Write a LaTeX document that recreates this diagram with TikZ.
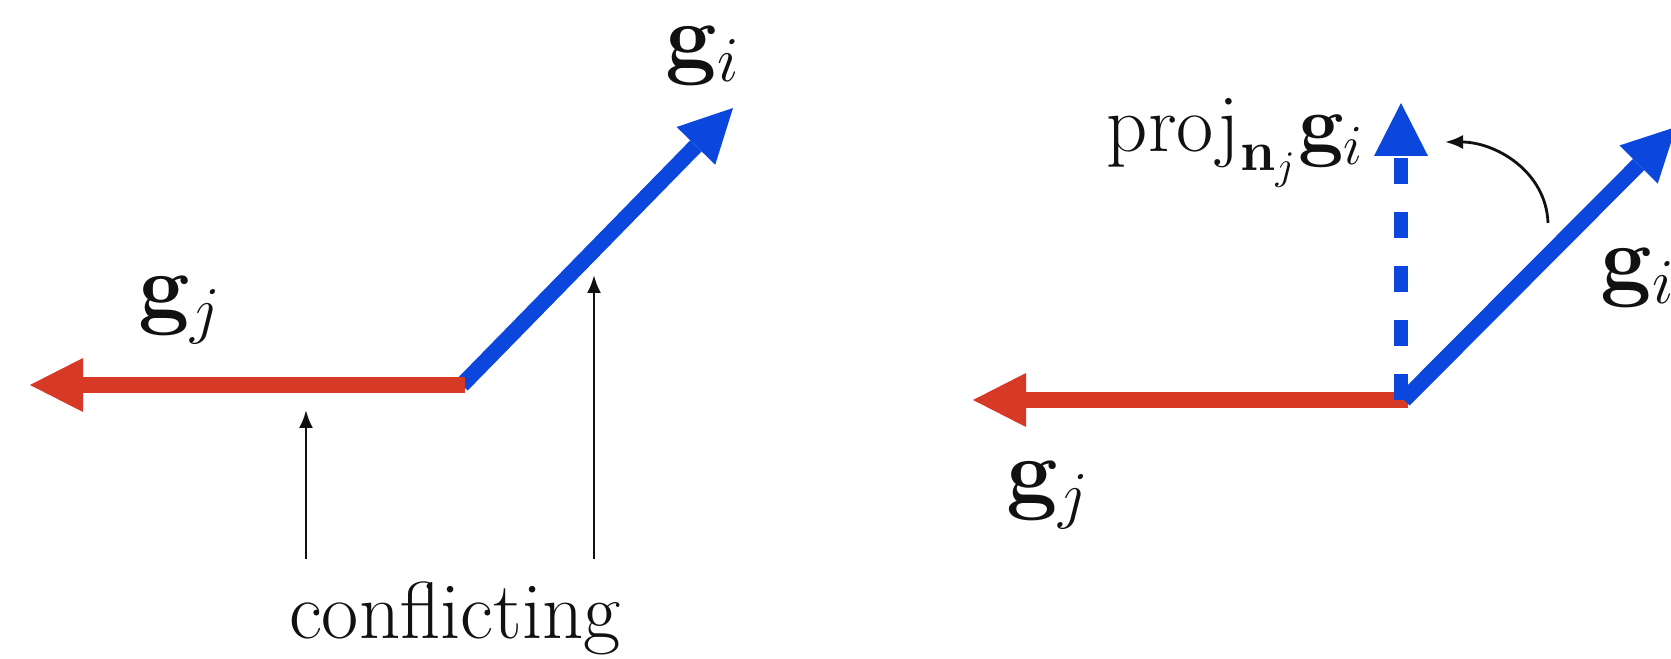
\RequirePackage{fix-cm}
\documentclass[tikz,border=0pt]{standalone}
\usepackage{amsmath,amssymb}
\usepackage{xcolor}
\usepackage{tikz}
\usetikzlibrary{arrows.meta}
\definecolor{gcRed}{HTML}{D63A26}
\definecolor{gcBlue}{HTML}{0B47DC}
\definecolor{gcInk}{HTML}{111111}
\tikzset{
  gc diagram/.style={font=\fontsize{23}{28}\selectfont, text=gcInk},
  gc vec/.style={-{Triangle[length=5.3mm, width=5.4mm, line width=0pt]}, line width=4.5pt},
  gc vec i/.style={gc vec, draw=gcBlue},
  gc vec j/.style={gc vec, draw=gcRed},
  gc proj/.style={gc vec i, line width=4pt, dash pattern=on 2.6mm off 2.8mm},
  gc pointer/.style={-{Latex[length=1.8mm, width=1.4mm]}, draw=gcInk, line width=0.8pt},
  gc label/.style={inner sep=0pt},
  gc grad label/.style={gc label, font=\fontsize{26}{31}\selectfont}
}

\begin{document}
\begin{tikzpicture}[gc diagram]
\useasboundingbox (0,0) rectangle (16.71,6.58);
% left: the two gradients conflict
\coordinate (oL) at (4.62,2.73);
\coordinate (giL) at (7.33,5.50);
\coordinate (gjL) at (0.30,2.73);
\draw[gc vec i] (oL) -- (giL);
\draw[gc vec j] ([xshift=0.3mm]oL) -- (gjL);
\node[gc grad label, anchor=base] (giLabL) at (7.03,5.90) {$\mathbf{g}_i$};
\node[gc grad label, anchor=base] (gjLabL) at (1.80,3.40) {$\mathbf{g}_j$};
\node[gc label, anchor=base] (conf) at (4.55,0.20) {conflicting};
\coordinate (confA) at (3.06,0.99);
\coordinate (confB) at (5.94,0.99);
\coordinate (hitJ) at (3.06,2.48);
\coordinate (hitI) at (5.94,3.83);
\draw[gc pointer] (confA) -- (hitJ);
\draw[gc pointer] (confB) -- (hitI);
% right: g_i projected onto the normal of g_j
\coordinate (oR) at (14.01,2.58);
\coordinate (gjR) at (9.73,2.58);
\coordinate (giR) at (16.76,5.31);
\coordinate (pjR) at (14.01,5.55);
\draw[gc vec j] ([xshift=0.7mm]oR) -- (gjR);
\draw[gc vec i] ([xshift=0.3mm]oR) -- (giR);
\draw[gc proj] (oR) -- (pjR);
\node[gc label, anchor=base east] (projLab) at (13.65,5.06) {$\mathrm{proj}_{\mathbf{n}_j}\mathbf{g}_i$};
\node[gc grad label, anchor=base west] (giLabR) at (16.00,3.68) {$\mathbf{g}_i$};
\node[gc grad label, anchor=base] (gjLabR) at (10.48,1.55) {$\mathbf{g}_j$};
\coordinate (bendFrom) at (15.48,4.35);
\coordinate (bendTo) at (14.45,5.16);
\draw[gc pointer] (bendFrom) to[out=92, in=0] (bendTo);
\end{tikzpicture}
\end{document}
